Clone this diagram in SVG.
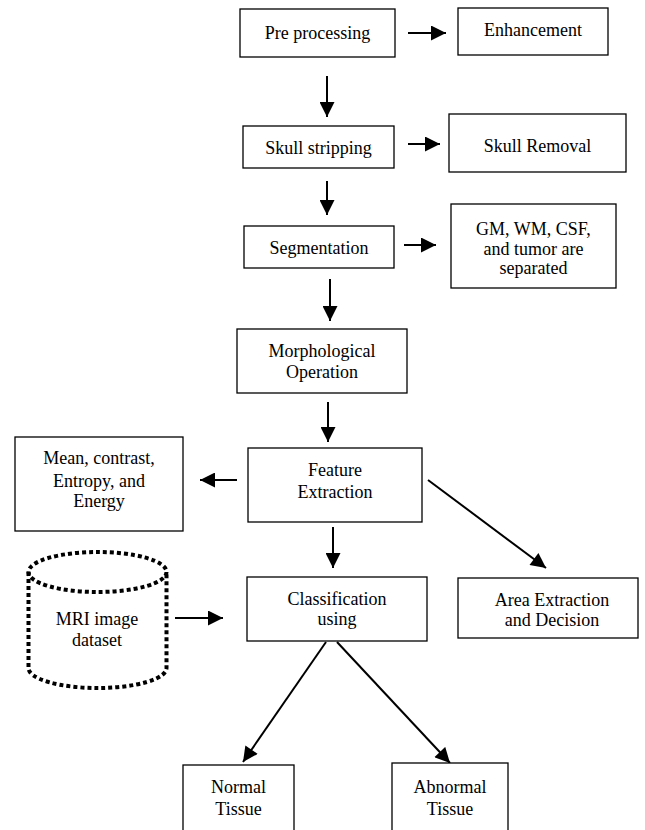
<svg xmlns="http://www.w3.org/2000/svg" width="645" height="830" viewBox="0 0 645 830">
<style>
.box{fill:#fff;stroke:#000;stroke-width:1.3}
.t{font-family:"Liberation Serif","Times New Roman","DejaVu Serif","Noto Serif",serif;font-size:18px;fill:#000;text-anchor:middle}
.c{stroke:#000;stroke-width:2;fill:none;marker-end:url(#ah)}
.dot{fill:none;stroke:#000;stroke-width:4;stroke-dasharray:4 3}
</style>
<defs>
<marker id="ah" viewBox="0 0 10 10" refX="10" refY="5" markerWidth="16" markerHeight="15" markerUnits="userSpaceOnUse" orient="auto">
<path d="M0,0 L10,5 L0,10 z" fill="#000"/>
</marker>
</defs>
<rect width="645" height="830" fill="#fff"/>
<g id="connectors">
<line class="c" x1="408" y1="33" x2="446" y2="33"/>
<line class="c" x1="327" y1="76" x2="327" y2="117"/>
<line class="c" x1="408" y1="144" x2="440" y2="144"/>
<line class="c" x1="327" y1="181" x2="327" y2="215"/>
<line class="c" x1="404" y1="245" x2="436" y2="245"/>
<line class="c" x1="330" y1="279" x2="330" y2="321"/>
<line class="c" x1="328" y1="402" x2="328" y2="442"/>
<line class="c" x1="237" y1="480" x2="200" y2="480"/>
<line class="c" x1="428" y1="480" x2="546" y2="568"/>
<line class="c" x1="333" y1="527" x2="333" y2="568"/>
<line class="c" x1="175" y1="618" x2="223" y2="618"/>
<line class="c" x1="326" y1="642" x2="243" y2="762"/>
<line class="c" x1="337" y1="642" x2="450" y2="763"/>
</g>
<g id="preprocessing"><rect class="box" x="240" y="9" width="155" height="48"/><text class="t" x="317.5" y="38.5">Pre processing</text></g>
<g id="enhancement"><rect class="box" x="458" y="8" width="150" height="47"/><text class="t" x="533" y="35.5">Enhancement</text></g>
<g id="skullstripping"><rect class="box" x="243" y="126" width="151" height="42"/><text class="t" x="318.5" y="153.5">Skull stripping</text></g>
<g id="skullremoval"><rect class="box" x="449" y="114" width="177" height="58"/><text class="t" x="537.5" y="151.5">Skull Removal</text></g>
<g id="segmentation"><rect class="box" x="244" y="226" width="150" height="42"/><text class="t" x="319" y="254">Segmentation</text></g>
<g id="separated"><rect class="box" x="451" y="204" width="165" height="84"/><text class="t" x="533.5" y="235">GM, WM, CSF,</text><text class="t" x="533.5" y="255">and tumor are</text><text class="t" x="533.5" y="274">separated</text></g>
<g id="morphological"><rect class="box" x="237" y="329" width="170" height="64"/><text class="t" x="322" y="357">Morphological</text><text class="t" x="322" y="378">Operation</text></g>
<g id="mean"><rect class="box" x="15" y="437" width="168" height="94"/><text class="t" x="99" y="464">Mean, contrast,</text><text class="t" x="99" y="487">Entropy, and</text><text class="t" x="99" y="507">Energy</text></g>
<g id="feature"><rect class="box" x="248" y="448" width="174" height="74"/><text class="t" x="335" y="476">Feature</text><text class="t" x="335" y="498">Extraction</text></g>
<g id="dataset"><path class="dot" d="M28.5,572 V668 A69,20 0 0 0 166.5,668 V572"/><ellipse class="dot" cx="97.5" cy="572" rx="69" ry="20"/><text class="t" x="97" y="625">MRI image</text><text class="t" x="97" y="646">dataset</text></g>
<g id="classification"><rect class="box" x="247" y="577" width="180" height="64"/><text class="t" x="337" y="605">Classification</text><text class="t" x="337" y="625">using</text></g>
<g id="area"><rect class="box" x="458" y="578" width="180" height="60"/><text class="t" x="552" y="606">Area Extraction</text><text class="t" x="552" y="626">and Decision</text></g>
<g id="normal"><rect class="box" x="183" y="765" width="111" height="75"/><text class="t" x="238.5" y="793">Normal</text><text class="t" x="238.5" y="815">Tissue</text></g>
<g id="abnormal"><rect class="box" x="392" y="763" width="116" height="77"/><text class="t" x="450" y="793">Abnormal</text><text class="t" x="450" y="815">Tissue</text></g>
</svg>
